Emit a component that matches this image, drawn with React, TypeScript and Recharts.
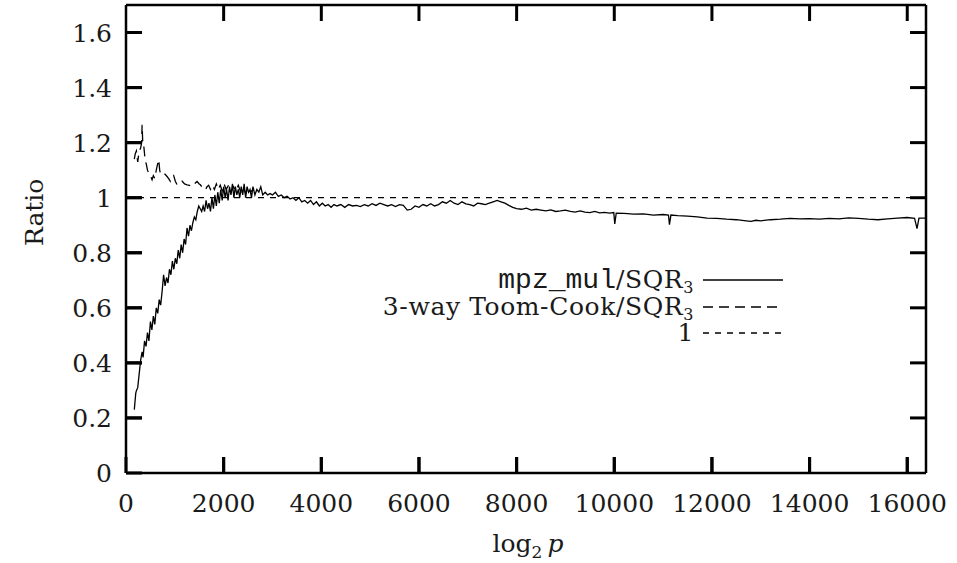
import React from 'react';
import { LineChart, Line, XAxis, YAxis, ReferenceLine } from 'recharts';

// mpz_mul / SQR3 ratio
const mulX = [
  170, 200, 215, 240, 270, 300, 330, 350, 380, 410, 440, 470, 500, 530, 560, 590, 620, 650, 680, 710,
  740, 770, 800, 830, 860, 890, 920, 950, 980, 1010, 1040, 1070, 1100, 1130, 1160, 1190, 1220, 1250, 1280, 1310,
  1340, 1370, 1400, 1430, 1460, 1490, 1520, 1550, 1580, 1610, 1640, 1670, 1700, 1730, 1760, 1790, 1820, 1850, 1880, 1910,
  1940, 1970, 2000, 2030, 2060, 2090, 2120, 2150, 2180, 2210, 2240, 2270, 2300, 2330, 2360, 2390, 2420, 2450, 2480, 2510,
  2540, 2570, 2600, 2640, 2680, 2720, 2760, 2800, 2850, 2900, 2950, 3000, 3060, 3120, 3180, 3240, 3300, 3360, 3420, 3480,
  3540, 3600, 3660, 3720, 3780, 3840, 3900, 3960, 4020, 4080, 4140, 4200, 4260, 4320, 4400, 4480, 4560, 4640, 4720, 4800,
  4880, 4960, 5040, 5120, 5200, 5280, 5360, 5440, 5520, 5600, 5680, 5760, 5840, 5920, 6000, 6080, 6160, 6240, 6320, 6400,
  6480, 6560, 6640, 6720, 6800, 6880, 6960, 7040, 7120, 7200, 7280, 7360, 7440, 7520, 7600, 7680, 7760, 7840, 7920, 8000,
  8100, 8200, 8300, 8400, 8500, 8600, 8700, 8800, 8900, 9000, 9100, 9200, 9300, 9400, 9500, 9600, 9700, 9800, 9900, 9990,
  10010, 10040, 10200, 10400, 10600, 10800, 11000, 11110, 11130, 11160, 11300, 11500, 11700, 11900, 12100, 12300, 12500, 12700, 12800, 12900,
  13000, 13200, 13400, 13600, 13800, 14000, 14200, 14400, 14600, 14800, 15000, 15200, 15400, 15600, 15800, 16000, 16150, 16200, 16240, 16384,
];
const mulY = [
  0.23, 0.29, 0.30, 0.31, 0.36, 0.41, 0.44, 0.42, 0.48, 0.46, 0.51, 0.48, 0.55, 0.52, 0.57, 0.54, 0.60, 0.58, 0.63, 0.61,
  0.66, 0.72, 0.68, 0.71, 0.69, 0.74, 0.72, 0.77, 0.74, 0.78, 0.76, 0.81, 0.78, 0.83, 0.80, 0.85, 0.83, 0.89, 0.86, 0.90,
  0.88, 0.91, 0.93, 0.92, 0.95, 0.97, 0.96, 0.95, 0.97, 0.95, 0.99, 0.96, 0.98, 0.95, 1.00, 0.96, 1.01, 0.97, 1.02, 0.98,
  1.03, 0.99, 1.04, 1.00, 1.03, 0.99, 1.04, 1.01, 1.05, 1.00, 1.04, 1.01, 1.03, 1.00, 1.04, 1.01, 1.05, 1.00, 1.04, 1.02,
  1.03, 1.00, 1.04, 1.01, 1.03, 1.02, 1.04, 1.01, 1.02, 1.01, 1.015, 1.01, 1.02, 1.005, 1.01, 1.0, 1.005, 0.995, 1.0, 0.99,
  1.0, 0.985, 0.99, 0.98, 0.99, 0.975, 0.985, 0.97, 0.98, 0.97, 0.975, 0.965, 0.975, 0.97, 0.975, 0.965, 0.975, 0.97, 0.972, 0.968,
  0.975, 0.97, 0.978, 0.972, 0.98, 0.975, 0.97, 0.975, 0.968, 0.975, 0.972, 0.955, 0.958, 0.97, 0.965, 0.975, 0.97, 0.978, 0.97, 0.975,
  0.985, 0.98, 0.99, 0.98, 0.975, 0.985, 0.978, 0.975, 0.97, 0.98, 0.978, 0.975, 0.98, 0.985, 0.99, 0.985, 0.98, 0.972, 0.965, 0.96,
  0.958, 0.962, 0.955, 0.958, 0.955, 0.952, 0.956, 0.95, 0.952, 0.955, 0.95, 0.948, 0.952, 0.948, 0.946, 0.95, 0.945, 0.947, 0.944, 0.946,
  0.905, 0.944, 0.943, 0.94, 0.941, 0.937, 0.939, 0.937, 0.902, 0.937, 0.935, 0.933, 0.93, 0.926, 0.925, 0.922, 0.92, 0.916, 0.914, 0.918,
  0.916, 0.92, 0.922, 0.925, 0.923, 0.924, 0.922, 0.925, 0.923, 0.927, 0.925, 0.922, 0.92, 0.923, 0.926, 0.928, 0.925, 0.888, 0.926, 0.926,
];

// 3-way Toom-Cook / SQR3 ratio
const toomX = [
  170, 190, 213, 240, 270, 300, 320, 330, 345, 363, 390, 418, 440, 465, 500, 534, 560, 590, 620, 636,
  670, 690, 704, 740, 772, 800, 841, 870, 909, 940, 977, 1010, 1046, 1100, 1148, 1200, 1250, 1300, 1353, 1400,
  1455, 1500, 1523, 1570, 1625, 1660, 1693, 1730, 1770, 1810, 1850, 1890, 1930, 1970, 2010, 2050, 2100, 2150, 2200, 2250,
  2300, 2350, 2400, 2450, 2500, 2550, 2600,
];
const toomY = [
  1.14, 1.16, 1.17, 1.13, 1.17, 1.18, 1.20, 1.265, 1.19, 1.19, 1.14, 1.12, 1.10, 1.09, 1.08, 1.065, 1.08, 1.07, 1.10, 1.114,
  1.138, 1.10, 1.09, 1.095, 1.09, 1.085, 1.077, 1.07, 1.059, 1.07, 1.08, 1.06, 1.047, 1.055, 1.06, 1.05, 1.047, 1.045, 1.041, 1.05,
  1.059, 1.05, 1.047, 1.035, 1.029, 1.04, 1.045, 1.03, 1.045, 1.03, 1.05, 1.03, 1.045, 1.025, 1.05, 1.03, 1.045, 1.02, 1.04, 1.025,
  1.045, 1.02, 1.04, 1.015, 1.035, 1.02, 1.03,
];

const xTicks = [0, 2000, 4000, 6000, 8000, 10000, 12000, 14000, 16000];
const yTicks = [0, 0.2, 0.4, 0.6, 0.8, 1, 1.2, 1.4, 1.6];

const X_MAX = 16384;
const Y_MAX = 1.7;

const mulData = mulX.map((x, i) => ({ x, y: mulY[i] }));
const toomData = toomX.map((x, i) => ({ x, y: toomY[i] }));

const SERIF = '"DejaVu Serif", serif';
const INK = '#1a1a1a';

// plot box (page pixels) from the chart margins below
const LEFT = 126;
const RIGHT = 926;
const TOP = 5;
const BOTTOM = 473;
const TICK = 16;
const px = (v: number) => LEFT + (v / X_MAX) * (RIGHT - LEFT);
const py = (v: number) => BOTTOM - (v / Y_MAX) * (BOTTOM - TOP);

const BottomTick = (p: any) => (
  <text x={p.x} y={p.y + TICK + 39} textAnchor="middle" fontFamily={SERIF} fontSize={25} fill={INK}>
    {p.payload.value}
  </text>
);
const LeftTick = (p: any) => (
  <text x={p.x - TICK - 14} y={p.y + 9} textAnchor="end" fontFamily={SERIF} fontSize={25} fill={INK}>
    {p.payload.value}
  </text>
);

const legendRows = [
  { y: 280, dash: undefined as string | undefined, label: 'mul' },
  { y: 307, dash: '10 6', label: 'toom' },
  { y: 333, dash: '6 6', label: 'one' },
];

const Sub3 = () => <span style={{ fontSize: 16, position: 'relative', top: 5 }}>3</span>;

const axisStyle = { stroke: '#000', strokeWidth: 2.5 };
const tickStyle = { stroke: '#000', strokeWidth: 3 };

export default function App() {
  const tickLines: { x1: number; y1: number; x2: number; y2: number }[] = [];
  xTicks.forEach((t) => {
    if (t <= 0) return;
    tickLines.push({ x1: px(t), y1: BOTTOM, x2: px(t), y2: BOTTOM - TICK });
    tickLines.push({ x1: px(t), y1: TOP, x2: px(t), y2: TOP + TICK });
  });
  yTicks.forEach((t) => {
    if (t <= 0) return;
    tickLines.push({ x1: LEFT, y1: py(t), x2: LEFT + TICK, y2: py(t) });
    tickLines.push({ x1: RIGHT, y1: py(t), x2: RIGHT - TICK, y2: py(t) });
  });

  return (
    <div style={{ position: 'absolute', left: 0, top: 0, width: 957, height: 563, background: '#fff' }}>
      <LineChart width={957} height={563} margin={{ top: 5, right: 31, bottom: 60, left: 96 }}>
        <XAxis xAxisId="b" type="number" dataKey="x" domain={[0, X_MAX]} ticks={xTicks} interval={0}
          height={30} tickSize={-TICK} tickMargin={0} tickLine={tickStyle} tick={<BottomTick />}
          axisLine={axisStyle} allowDataOverflow />
        <YAxis yAxisId="l" type="number" domain={[0, Y_MAX]} ticks={yTicks} interval={0}
          width={30} tickSize={-TICK} tickMargin={0} tickLine={tickStyle} tick={<LeftTick />}
          axisLine={axisStyle} allowDataOverflow />
        <ReferenceLine xAxisId="b" yAxisId="l" stroke="#000" strokeWidth={2.5} ifOverflow="visible"
          segment={[{ x: 0, y: Y_MAX }, { x: X_MAX, y: Y_MAX }]} />
        <ReferenceLine xAxisId="b" yAxisId="l" stroke="#000" strokeWidth={2.5} ifOverflow="visible"
          segment={[{ x: X_MAX, y: 0 }, { x: X_MAX, y: Y_MAX }]} />
        <ReferenceLine xAxisId="b" yAxisId="l" y={1} stroke="#000" strokeWidth={1.2} strokeDasharray="6 6" />
        <Line xAxisId="b" yAxisId="l" data={toomData} dataKey="y" stroke="#000" strokeWidth={1.3}
          strokeDasharray="10 6" dot={false} isAnimationActive={false} />
        <Line xAxisId="b" yAxisId="l" data={mulData} dataKey="y" stroke="#000" strokeWidth={1.3}
          dot={false} isAnimationActive={false} />
      </LineChart>

      {/* inward tick marks on all four sides of the frame */}
      <svg style={{ position: 'absolute', left: 0, top: 0, zIndex: 2, pointerEvents: 'none' }} width={957} height={563}>
        {tickLines.map((l, i) => (
          <line key={i} x1={l.x1} y1={l.y1} x2={l.x2} y2={l.y2} stroke="#000" strokeWidth={3} />
        ))}
      </svg>

      <div style={{ position: 'absolute', left: 5, top: 196, width: 60, height: 40,
        transform: 'rotate(-90deg)', transformOrigin: '30px 20px',
        fontFamily: SERIF, fontSize: 25, color: INK, textAlign: 'center', lineHeight: '40px' }}>
        Ratio
      </div>
      <div style={{ position: 'absolute', left: 428, top: 530, width: 200, textAlign: 'center',
        fontFamily: SERIF, fontSize: 25, color: INK, lineHeight: '28px' }}>
        log<span style={{ fontSize: 17, position: 'relative', top: 6 }}>2</span>
        <span style={{ fontStyle: 'italic', marginLeft: 5 }}>p</span>
      </div>

      {legendRows.map((r) => (
        <React.Fragment key={r.label}>
          <div style={{ position: 'absolute', left: 294, top: r.y - 12, width: 400, textAlign: 'right',
            fontFamily: SERIF, fontSize: 25, letterSpacing: '0.6px', color: INK, lineHeight: '24px', whiteSpace: 'nowrap' }}>
            {r.label === 'mul' && (
              <>
                <span style={{ fontFamily: '"Liberation Mono", monospace', fontSize: 28, letterSpacing: 0 }}>mpz_mul</span>/SQR<Sub3 />
              </>
            )}
            {r.label === 'toom' && (
              <>
                3-way Toom-Cook/SQR<Sub3 />
              </>
            )}
            {r.label === 'one' && <>1</>}
          </div>
          <svg style={{ position: 'absolute', left: 703, top: r.y - 5 }} width={80} height={10}>
            <line x1={0} x2={80} y1={5} y2={5} stroke="#000" strokeWidth={1.3} strokeDasharray={r.dash} />
          </svg>
        </React.Fragment>
      ))}
    </div>
  );
}
